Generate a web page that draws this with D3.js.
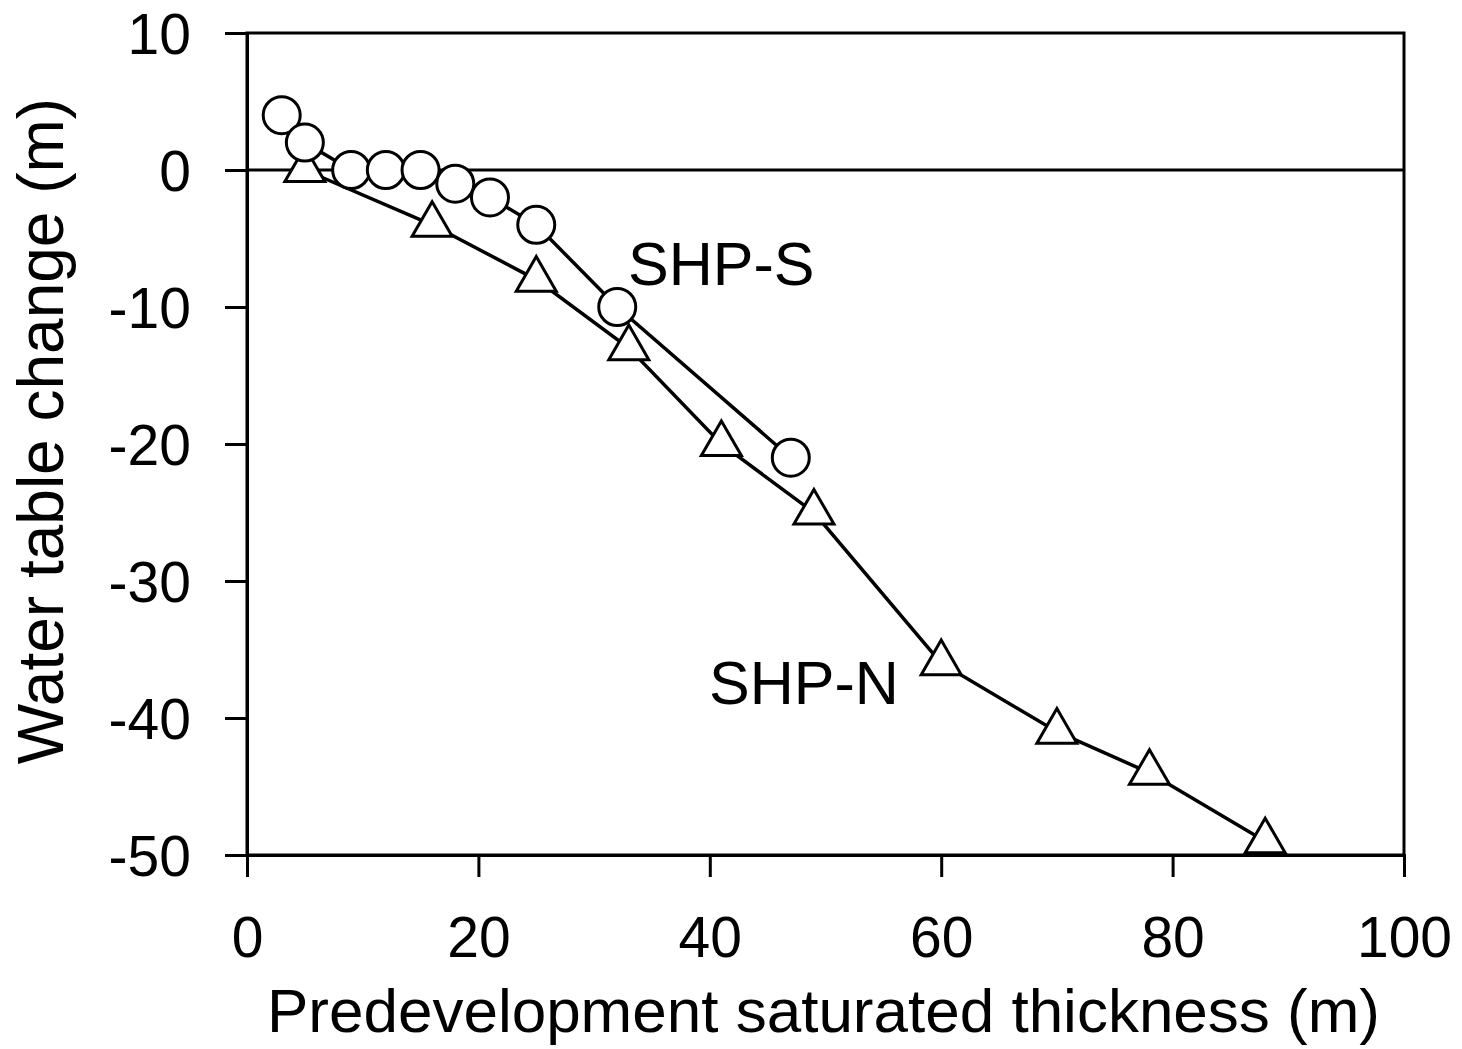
<!DOCTYPE html>
<html lang="en">
<head>
  <meta charset="UTF-8">
  <script src="https://cdn.jsdelivr.net/npm/d3@7"></script>
  <title>Water table change</title>
  <style>
    body { margin: 0; background: #fff; }
    text { font-family: "Liberation Sans", Arial, sans-serif; fill: #000; }
  </style>
</head>
<body>
  <svg width="1462" height="1049"></svg>
  <script>
    // SHP-S (circles)
    var sX = [3, 5, 9, 12, 15, 18, 21, 25, 32, 47];
    var sY = [4, 2, 0, 0, 0, -1, -2, -4, -10, -21];
    // SHP-N (triangles)
    var nX = [5, 16, 25, 33, 41, 49, 60, 70, 78, 88];
    var nY = [0, -4, -8, -13, -20, -25, -36, -41, -44, -49];

    var xTicks = [0, 20, 40, 60, 80, 100];
    var yTicks = [10, 0, -10, -20, -30, -40, -50];

    var svg = d3.select("svg");
    var m = { left: 247, right: 1404, top: 33, bottom: 855 };

    var x = d3.scaleLinear().domain([0, 100]).range([m.left, m.right]);
    var y = d3.scaleLinear().domain([-50, 10]).range([m.bottom, m.top]);

    // frame
    svg.append("rect")
      .attr("x", m.left).attr("y", m.top)
      .attr("width", m.right - m.left).attr("height", m.bottom - m.top)
      .attr("fill", "none").attr("stroke", "#000").attr("stroke-width", 3);

    // zero line
    svg.append("line")
      .attr("x1", m.left).attr("x2", m.right)
      .attr("y1", y(0)).attr("y2", y(0))
      .attr("stroke", "#000").attr("stroke-width", 3);

    var fmt = function (d) { return String(d); }; // plain hyphen, like the original
    var xAxis = svg.append("g")
      .attr("transform", "translate(0," + m.bottom + ")")
      .call(d3.axisBottom(x).tickValues(xTicks).tickFormat(fmt).tickSize(22).tickPadding(40));
    var yAxis = svg.append("g")
      .attr("transform", "translate(" + m.left + ",0)")
      .call(d3.axisLeft(y).tickValues(yTicks).tickFormat(fmt).tickSize(22).tickPadding(34));

    [xAxis, yAxis].forEach(function (a) {
      a.select(".domain").attr("stroke-width", 3);
      a.selectAll(".tick line").attr("stroke-width", 3);
      a.selectAll(".tick text").attr("font-size", 57)
        .style("font-family", "Liberation Sans, Arial, sans-serif");
    });
    xAxis.selectAll(".tick text").attr("dy", "0.71em");
    yAxis.selectAll(".tick text").attr("dy", "0.36em");

    // axis titles
    svg.append("text")
      .attr("x", (m.left + m.right) / 2 - 2).attr("y", 1032)
      .attr("text-anchor", "middle").attr("font-size", 62)
      .text("Predevelopment saturated thickness (m)");
    svg.append("text")
      .attr("transform", "translate(63,431) rotate(-90)")
      .attr("text-anchor", "middle").attr("font-size", 64)
      .text("Water table change (m)");

    var line = d3.line().x(function (d) { return x(d[0]); }).y(function (d) { return y(d[1]); });
    var sData = d3.zip(sX, sY);
    var nData = d3.zip(nX, nY);

    svg.append("path").datum(sData).attr("d", line)
      .attr("fill", "none").attr("stroke", "#000").attr("stroke-width", 3.5);
    svg.append("path").datum(nData).attr("d", line)
      .attr("fill", "none").attr("stroke", "#000").attr("stroke-width", 3.5);

    // triangles
    var side = 40, h = side * Math.sqrt(3) / 2;
    var tri = "M0," + (-2 * h / 3) + "L" + (side / 2) + "," + (h / 3) + "L" + (-side / 2) + "," + (h / 3) + "Z";
    svg.selectAll(".tri").data(nData).enter().append("path")
      .attr("class", "tri")
      .attr("transform", function (d) { return "translate(" + x(d[0]) + "," + y(d[1]) + ")"; })
      .attr("d", tri)
      .attr("fill", "#fff").attr("stroke", "#000").attr("stroke-width", 3);

    // circles
    svg.selectAll(".cir").data(sData).enter().append("circle")
      .attr("class", "cir")
      .attr("cx", function (d) { return x(d[0]); })
      .attr("cy", function (d) { return y(d[1]); })
      .attr("r", 18.5)
      .attr("fill", "#fff").attr("stroke", "#000").attr("stroke-width", 3);

    // series labels
    svg.append("text").attr("x", 628).attr("y", 285).attr("font-size", 61).text("SHP-S");
    svg.append("text").attr("x", 709).attr("y", 704).attr("font-size", 61).text("SHP-N");
  </script>
</body>
</html>
